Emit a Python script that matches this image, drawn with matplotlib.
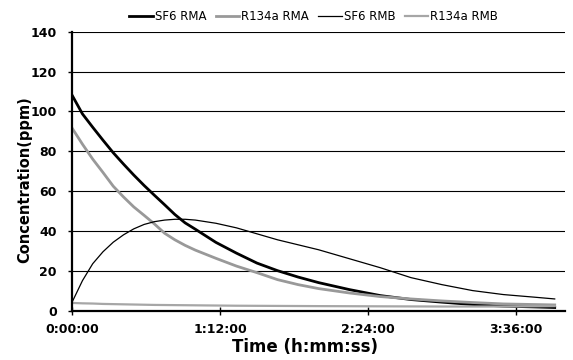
import matplotlib
matplotlib.use('Agg')
import matplotlib.pyplot as plt
from matplotlib.ticker import FuncFormatter

# time in minutes
t = [0, 5, 10, 15, 20, 25, 30, 35, 40, 45, 50, 55, 60, 70, 80, 90, 100,
     110, 120, 135, 150, 165, 180, 195, 210, 225, 235]

sf6_rma = [108, 98.7, 92, 85.5, 79.2, 73.5, 68, 62.8, 57.9, 53.1, 48.2, 44.0, 40.8, 34.2,
           28.8, 23.8, 20, 16.8, 14, 10.5, 7.5, 5.5, 4.2, 3.0, 2.2, 1.8, 1.5]
r134a_rma = [91.5, 83.5, 76, 69.3, 62.4, 57, 52, 47.8, 43.5, 38.8, 35.5, 32.7, 30.3, 26.2,
             22.3, 19, 15.5, 13, 11, 8.8, 7.0, 5.8, 4.8, 4.0, 3.3, 3.0, 2.8]
sf6_rmb = [4.3, 15, 23.5, 29.5, 34.3, 38, 41, 43.2, 44.6, 45.4, 45.8, 45.8, 45.4, 43.8,
           41.5, 38.5, 35.5, 33, 30.5, 26, 21.5, 16.5, 13, 10, 8, 6.7, 5.8]
r134a_rmb = [3.8, 3.6, 3.5, 3.3, 3.2, 3.1, 3.0, 2.9, 2.8, 2.75, 2.7, 2.65, 2.6, 2.5,
             2.4, 2.35, 2.3, 2.25, 2.2, 2.15, 2.1, 2.05, 2.0, 2.0, 2.0, 2.1, 2.2]

names = ['SF6 RMA', 'R134a RMA', 'SF6 RMB', 'R134a RMB']
x_ticks = [0, 72, 144, 216]
y_ticks = [0, 20, 40, 60, 80, 100, 120, 140]

plt.rcParams['font.family'] = ['DejaVu Sans']

fig = plt.figure(figsize=(5.73, 3.6), dpi=100)
ax = fig.add_axes([0.126, 0.1375, 0.86, 0.7745])

gray = '#999999'
ax.plot(t, sf6_rma, color='black', lw=2.0, label=names[0])
ax.plot(t, r134a_rma, color=gray, lw=2.0, label=names[1])
ax.plot(t, sf6_rmb, color='black', lw=0.9, label=names[2])
ax.plot(t, r134a_rmb, color='#a6a6a6', lw=1.6, label=names[3])

ax.set_xlim(0, 240)
ax.set_ylim(0, 140)
ax.set_yticks(y_ticks)
ax.set_xticks(x_ticks)

def fmt(v, pos):
    v = int(round(v))
    return '%d:%02d:00' % (v // 60, v % 60)

ax.xaxis.set_major_formatter(FuncFormatter(fmt))
ax.yaxis.grid(True, color='black', lw=0.8)
ax.set_axisbelow(True)

for s in ['top', 'right']:
    ax.spines[s].set_visible(False)
for s in ['left', 'bottom']:
    ax.spines[s].set_linewidth(1.6)

ax.tick_params(axis='y', direction='out', length=3, width=1, pad=8)
ax.tick_params(axis='x', direction='inout', length=6, width=1, pad=6)
for lab in ax.get_yticklabels():
    lab.set_fontweight('bold')
    lab.set_fontsize(9)
for lab in ax.get_xticklabels():
    lab.set_fontweight('bold')
    lab.set_fontsize(9)

ax.set_xlabel('Time (h:mm:ss)', fontsize=12, fontweight='bold')
ax.xaxis.set_label_coords(0.473, -0.1)
ax.set_ylabel('Concentration(ppm)', fontsize=10.5, fontweight='bold')
ax.yaxis.set_label_coords(-0.082, 0.47)

ax.legend(loc='lower center', bbox_to_anchor=(0.49, 1.0), ncol=4, frameon=False,
          fontsize=8.5, handlelength=2.0, handletextpad=0.15, columnspacing=0.8,
          borderaxespad=0.3)

fig.savefig('out.png', dpi=100)
